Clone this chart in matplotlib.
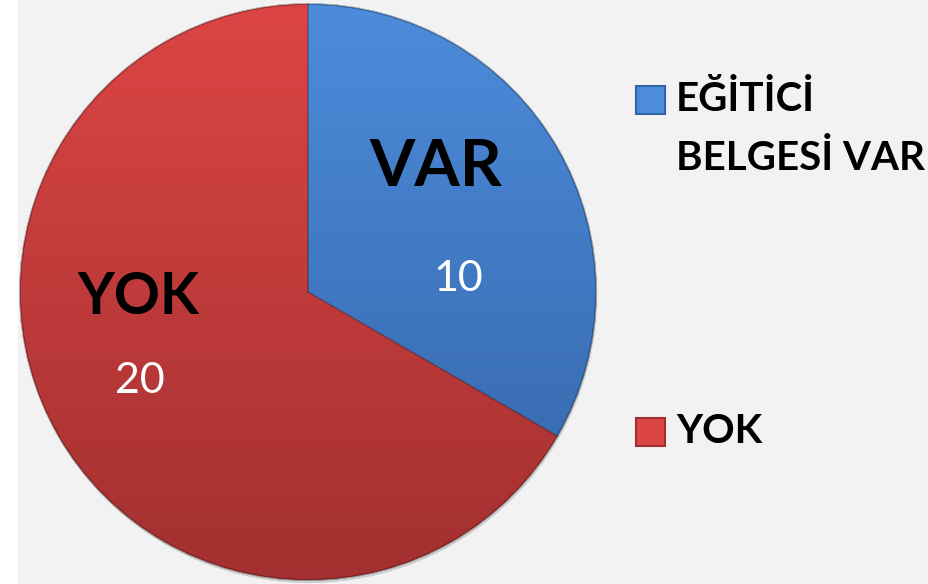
import numpy as np
import matplotlib
matplotlib.use('Agg')
import matplotlib.pyplot as plt
from matplotlib.colors import LinearSegmentedColormap
from matplotlib.patches import Rectangle, Wedge

labels = ['VAR', 'YOK']
values = [10, 20]
legend_labels = ['EĞİTİCİ\nBELGESİ VAR', 'YOK']
top_colors = ['#4d8cdb', '#dc4545']
bottom_colors = ['#3363a6', '#a33030']

W, H = 929, 584
fig = plt.figure(figsize=(W / 100, H / 100), dpi=100, facecolor='white')
ax = fig.add_axes([0, 0, 1, 1])
ax.add_patch(Rectangle((18, 0), W - 18, H, facecolor='#f2f2f2', edgecolor='none', zorder=0))

cx, cy, r = 308, 292, 288

# soft shadow under the pie
for i, a in enumerate([0.05, 0.05, 0.06]):
    ax.add_patch(plt.Circle((cx + 1, cy + 2 + i), r + 1 - i, color='black', alpha=a, zorder=1, lw=0))

# y axis is flipped below, so angles run the other way in data space
wedges, _ = ax.pie(values, center=(cx, cy), radius=r, startangle=-90, counterclock=True,
                   colors=top_colors, wedgeprops=dict(linewidth=0), frame=True)
ax.set_xlim(0, W)
ax.set_ylim(H, 0)
ax.set_aspect('equal')
ax.axis('off')

grad = np.linspace(0, 1, 256).reshape(-1, 1)
for w, c0, c1 in zip(wedges, top_colors, bottom_colors):
    w.set_zorder(2)
    cmap = LinearSegmentedColormap.from_list('g', [c0, c1])
    im = ax.imshow(grad, cmap=cmap, aspect='auto', extent=(cx - r, cx + r, cy + r, cy - r),
                   zorder=3, interpolation='bicubic')
    im.set_clip_path(w)
    ax.add_patch(Wedge((cx, cy), r, w.theta1, w.theta2, width=0, facecolor='none',
                       edgecolor='black', alpha=0.25, linewidth=1.2, zorder=4))

ax.set_xlim(0, W)
ax.set_ylim(H, 0)

# seam lines between slices
start = 90.0
for v in values:
    ang = np.deg2rad(start)
    ax.plot([cx, cx + r * np.cos(ang)], [cy, cy - r * np.sin(ang)], color='black',
            alpha=0.25, lw=1.2, zorder=5)
    start -= 360 * v / sum(values)

font = 'Lato'
name_pos = [(436, 168), (138, 297)]
name_size = [47, 41]
val_pos = [(458, 279), (140, 381)]
for lab, v, (nx, ny), fs, (vx, vy) in zip(labels, values, name_pos, name_size, val_pos):
    ax.text(nx, ny, lab, ha='center', va='center', fontsize=fs, fontweight='bold',
            family=font, color='black', zorder=6)
    ax.text(vx, vy, str(v), ha='center', va='center', fontsize=31,
            family=font, color='white', zorder=6)

# legend
leg_y = [100, 432]
for lab, c0, c1, y in zip(legend_labels, top_colors, bottom_colors, leg_y):
    ax.add_patch(Rectangle((636, y - 14), 29, 28, facecolor=c0, edgecolor=c1, lw=1.5, zorder=6))
    ax.text(676, y - 19, lab, ha='left', va='top', fontsize=29, fontweight='bold',
            family=font, color='black', linespacing=1.72, zorder=6)

fig.savefig('out.png', dpi=100, facecolor='white')
